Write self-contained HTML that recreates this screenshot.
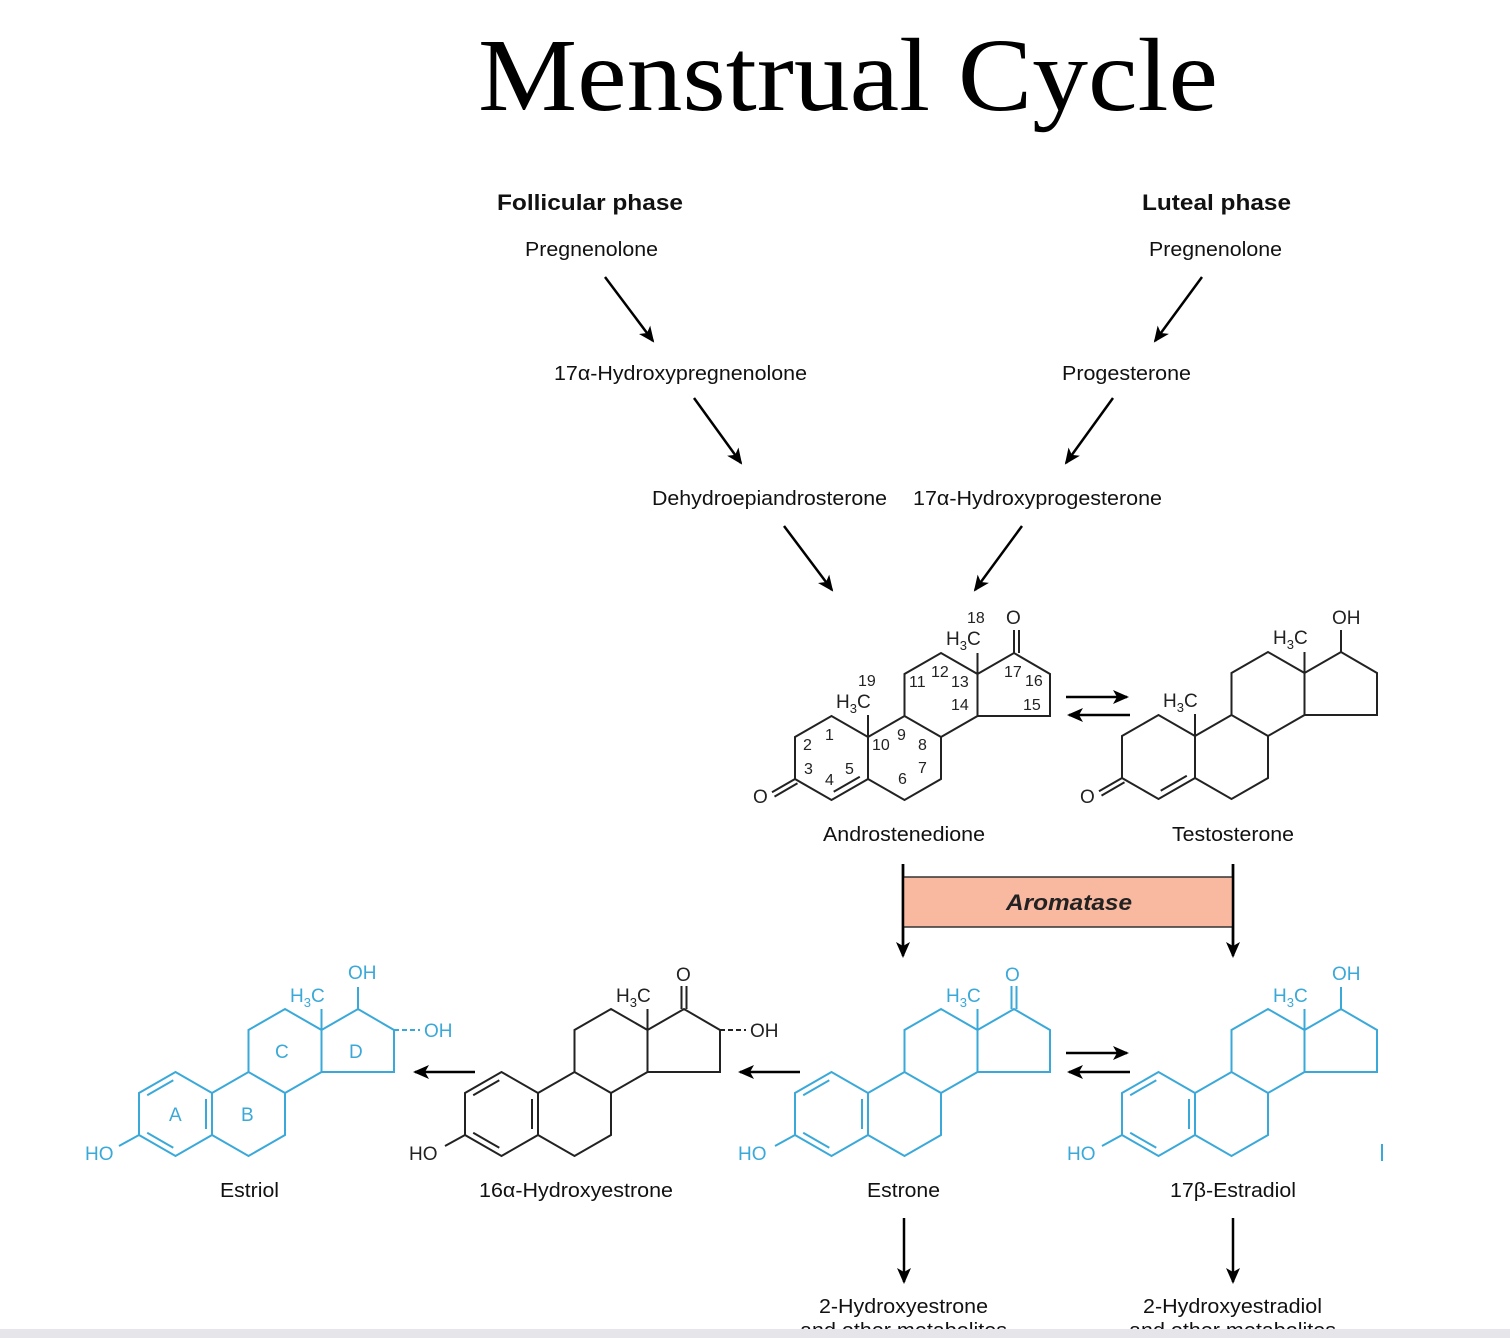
<!DOCTYPE html>
<html><head><meta charset="utf-8"><style>
html,body{margin:0;padding:0;background:#fff;}
svg{display:block;}
text{font-family:"Liberation Sans",sans-serif;}
</style></head><body>
<svg width="1510" height="1338" viewBox="0 0 1510 1338" xmlns="http://www.w3.org/2000/svg">
<defs>
<marker id="ah" markerWidth="16" markerHeight="14" refX="14" refY="7" orient="auto" markerUnits="userSpaceOnUse">
<path d="M0,0 L16,7 L0,14 L4,7 Z" fill="#000"/>
</marker>
<g id="skel">
<path d="M0,0 L-36.5,-21 L-73,0 L-73,42 L-36.5,63 L0,42 Z M0,42 L36.5,63 L73,42 L73,0 L36.5,-21 L0,0 M36.5,-21 L36.5,-63 L73,-84 L109.5,-63 L109.5,-21 L73,0 M109.5,-63 L146,-84 L182,-63 L182,-21 L109.5,-21" fill="none"/>
</g>
<g id="arom">
<path d="M-38.7,-12.8 L-64.8,2.2 M-64.8,39.8 L-38.7,54.8 M-6,6 L-6,36" fill="none"/>
</g>
</defs>

<rect width="1510" height="1338" fill="#fff"/>
<text x="478" y="110" style="font-family:'Liberation Serif',serif" font-size="104" textLength="740" lengthAdjust="spacingAndGlyphs">Menstrual Cycle</text>

<g font-size="20" fill="#111">
<text x="497" y="210" font-weight="bold" font-size="22" textLength="186" lengthAdjust="spacingAndGlyphs">Follicular phase</text>
<text x="1142" y="210" font-weight="bold" font-size="22" textLength="149" lengthAdjust="spacingAndGlyphs">Luteal phase</text>
<text x="525" y="256" textLength="133" lengthAdjust="spacingAndGlyphs">Pregnenolone</text>
<text x="1149" y="256" textLength="133" lengthAdjust="spacingAndGlyphs">Pregnenolone</text>
<text x="554" y="380" textLength="253" lengthAdjust="spacingAndGlyphs">17α-Hydroxypregnenolone</text>
<text x="1062" y="380" textLength="129" lengthAdjust="spacingAndGlyphs">Progesterone</text>
<text x="652" y="505" textLength="235" lengthAdjust="spacingAndGlyphs">Dehydroepiandrosterone</text>
<text x="913" y="505" textLength="249" lengthAdjust="spacingAndGlyphs">17α-Hydroxyprogesterone</text>
<text x="823" y="841" textLength="162" lengthAdjust="spacingAndGlyphs">Androstenedione</text>
<text x="1172" y="841" textLength="122" lengthAdjust="spacingAndGlyphs">Testosterone</text>
<text x="220" y="1197" textLength="59" lengthAdjust="spacingAndGlyphs">Estriol</text>
<text x="479" y="1197" textLength="194" lengthAdjust="spacingAndGlyphs">16α-Hydroxyestrone</text>
<text x="867" y="1197" textLength="73" lengthAdjust="spacingAndGlyphs">Estrone</text>
<text x="1170" y="1197" textLength="126" lengthAdjust="spacingAndGlyphs">17β-Estradiol</text>
<text x="819" y="1313" textLength="169" lengthAdjust="spacingAndGlyphs">2-Hydroxyestrone</text>
<text x="800" y="1337" textLength="207" lengthAdjust="spacingAndGlyphs">and other metabolites</text>
<text x="1143" y="1313" textLength="179" lengthAdjust="spacingAndGlyphs">2-Hydroxyestradiol</text>
<text x="1129" y="1337" textLength="207" lengthAdjust="spacingAndGlyphs">and other metabolites</text>
</g>

<!-- arrows -->
<g stroke="#000" stroke-width="2.5" marker-end="url(#ah)">
<line x1="605" y1="277" x2="653" y2="341"/>
<line x1="1202" y1="277" x2="1155" y2="341"/>
<line x1="694" y1="398" x2="741" y2="463"/>
<line x1="1113" y1="398" x2="1066" y2="463"/>
<line x1="784" y1="526" x2="832" y2="590"/>
<line x1="1022" y1="526" x2="975" y2="590"/>
<line x1="1066" y1="697" x2="1127" y2="697"/>
<line x1="1130" y1="715" x2="1069" y2="715"/>
<line x1="1066" y1="1053" x2="1127" y2="1053"/>
<line x1="1130" y1="1072" x2="1069" y2="1072"/>
<line x1="800" y1="1072" x2="740" y2="1072"/>
<line x1="475" y1="1072" x2="415" y2="1072"/>
<line x1="904" y1="1218" x2="904" y2="1282"/>
<line x1="1233" y1="1218" x2="1233" y2="1282"/>
<line x1="903" y1="864" x2="903" y2="956"/>
<line x1="1233" y1="864" x2="1233" y2="956"/>
</g>
<rect x="903" y="877" width="330" height="50" fill="#f9b8a0" stroke="#333" stroke-width="1.5"/>
<line x1="903" y1="864" x2="903" y2="945" stroke="#000" stroke-width="2.5"/>
<line x1="1233" y1="864" x2="1233" y2="945" stroke="#000" stroke-width="2.5"/>
<text x="1006" y="910" font-size="22" font-weight="bold" font-style="italic" fill="#222" textLength="126" lengthAdjust="spacingAndGlyphs">Aromatase</text>

<!-- Androstenedione -->
<g transform="translate(868,737)" stroke="#222" stroke-width="2" fill="#222">
<use href="#skel"/>
<path d="M-34.3,54.8 L-8.2,39.8 M-73,42 L-96,55.3 M-70.5,46.3 L-93.5,59.6 M0,0 L0,-22 M109.5,-63 L109.5,-84 M146,-84 L146,-107 M151,-84 L151,-107" fill="none"/>
<g stroke="none" font-size="19">
<text x="-115" y="66">O</text>
<text x="138" y="-113">O</text>
<text x="-32" y="-29">H<tspan font-size="13" dy="5">3</tspan><tspan dy="-5">C</tspan></text>
<text x="78" y="-92">H<tspan font-size="13" dy="5">3</tspan><tspan dy="-5">C</tspan></text>
<g font-size="16">
<text x="-10" y="-51">19</text>
<text x="99" y="-114">18</text>
<text x="-43" y="3">1</text>
<text x="-65" y="13">2</text>
<text x="-64" y="37">3</text>
<text x="-43" y="48">4</text>
<text x="-23" y="37">5</text>
<text x="30" y="47">6</text>
<text x="50" y="36">7</text>
<text x="50" y="13">8</text>
<text x="29" y="3">9</text>
<text x="4" y="13">10</text>
<text x="41" y="-50">11</text>
<text x="63" y="-60">12</text>
<text x="83" y="-50">13</text>
<text x="83" y="-27">14</text>
<text x="155" y="-27">15</text>
<text x="157" y="-51">16</text>
<text x="136" y="-60">17</text>
</g></g></g>

<!-- Testosterone -->
<g transform="translate(1195,736)" stroke="#222" stroke-width="2" fill="#222">
<use href="#skel"/>
<path d="M-34.3,54.8 L-8.2,39.8 M-73,42 L-96,55.3 M-70.5,46.3 L-93.5,59.6 M0,0 L0,-22 M109.5,-63 L109.5,-84 M146,-84 L146,-106" fill="none"/>
<g stroke="none" font-size="19">
<text x="-115" y="67">O</text>
<text x="137" y="-112">OH</text>
<text x="-32" y="-29">H<tspan font-size="13" dy="5">3</tspan><tspan dy="-5">C</tspan></text>
<text x="78" y="-92">H<tspan font-size="13" dy="5">3</tspan><tspan dy="-5">C</tspan></text>
</g></g>

<!-- Estrone -->
<g transform="translate(868,1093)" stroke="#3aa9d9" stroke-width="2" fill="#3aa9d9">
<use href="#skel"/><use href="#arom"/>
<path d="M-73,42 L-93,53 M109.5,-63 L109.5,-84 M143.5,-84 L143.5,-107 M148.5,-84 L148.5,-107" fill="none"/>
<g stroke="none" font-size="19">
<text x="-130" y="67">HO</text>
<text x="137" y="-112">O</text>
<text x="78" y="-91">H<tspan font-size="13" dy="5">3</tspan><tspan dy="-5">C</tspan></text>
</g></g>

<!-- Estradiol -->
<g transform="translate(1195,1093)" stroke="#3aa9d9" stroke-width="2" fill="#3aa9d9">
<use href="#skel"/><use href="#arom"/>
<path d="M-73,42 L-93,53 M109.5,-63 L109.5,-84 M146,-84 L146,-106 M187,51 L187,68" fill="none"/>
<g stroke="none" font-size="19">
<text x="-128" y="67">HO</text>
<text x="137" y="-113">OH</text>
<text x="78" y="-91">H<tspan font-size="13" dy="5">3</tspan><tspan dy="-5">C</tspan></text>
</g></g>

<!-- 16a-hydroxyestrone -->
<g transform="translate(538,1093)" stroke="#222" stroke-width="2" fill="#222">
<use href="#skel"/><use href="#arom"/>
<path d="M-73,42 L-93,53 M109.5,-63 L109.5,-84 M143.5,-84 L143.5,-107 M148.5,-84 L148.5,-107" fill="none"/>
<path d="M182,-63 L208,-63" fill="none" stroke-dasharray="5,3"/>
<g stroke="none" font-size="19">
<text x="-129" y="67">HO</text>
<text x="138" y="-112">O</text>
<text x="212" y="-56">OH</text>
<text x="78" y="-91">H<tspan font-size="13" dy="5">3</tspan><tspan dy="-5">C</tspan></text>
</g></g>

<!-- Estriol -->
<g transform="translate(212,1093)" stroke="#3aa9d9" stroke-width="2" fill="#3aa9d9">
<use href="#skel"/><use href="#arom"/>
<path d="M-73,42 L-93,53 M109.5,-63 L109.5,-84 M146,-84 L146,-106" fill="none"/>
<path d="M182,-63 L208,-63" fill="none" stroke-dasharray="5,3"/>
<g stroke="none" font-size="19">
<text x="-127" y="67">HO</text>
<text x="136" y="-114">OH</text>
<text x="212" y="-56">OH</text>
<text x="78" y="-91">H<tspan font-size="13" dy="5">3</tspan><tspan dy="-5">C</tspan></text>
<text x="-43" y="28">A</text>
<text x="29" y="28">B</text>
<text x="63" y="-35">C</text>
<text x="137" y="-35">D</text>
</g></g>

<rect x="0" y="1329" width="1510" height="9" fill="#e6e6ea"/>
</svg>
</body></html>
